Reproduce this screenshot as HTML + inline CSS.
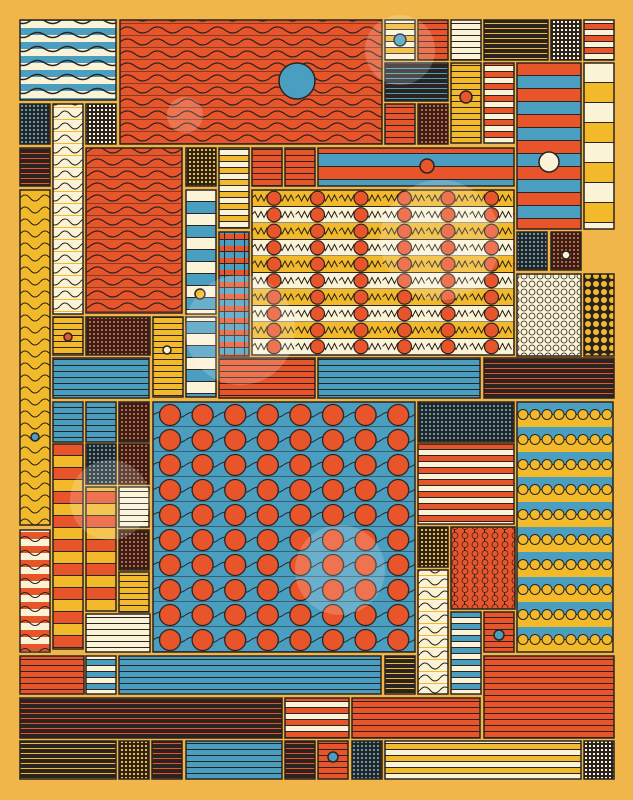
<!DOCTYPE html><html><head><meta charset="utf-8"><style>html,body{margin:0;padding:0;background:#f1b649}svg{display:block}</style></head><body>
<svg width="633" height="800" viewBox="0 0 633 800" xmlns="http://www.w3.org/2000/svg">
<defs>
<pattern id="R" width="6" height="6" patternUnits="userSpaceOnUse"><rect width="6" height="6" fill="#e9552b"/><rect y="5" width="6" height="1" fill="#2a2320"/></pattern>
<pattern id="B" width="6" height="6" patternUnits="userSpaceOnUse"><rect width="6" height="6" fill="#4a9ec0"/><rect y="5" width="6" height="1" fill="#2a2320"/></pattern>
<pattern id="Y" width="6" height="6" patternUnits="userSpaceOnUse"><rect width="6" height="6" fill="#f2b92a"/><rect y="5" width="6" height="1" fill="#2a2320"/></pattern>
<pattern id="C" width="6" height="6" patternUnits="userSpaceOnUse"><rect width="6" height="6" fill="#fbf3d6"/><rect y="5" width="6" height="1" fill="#2a2320"/></pattern>
<pattern id="D" width="5" height="5" patternUnits="userSpaceOnUse"><rect width="5" height="5" fill="#2a2320"/><rect y="3" width="5" height="1" fill="#e9552b"/></pattern>
<pattern id="DY" width="5" height="5" patternUnits="userSpaceOnUse"><rect width="5" height="5" fill="#2a2320"/><rect y="3" width="5" height="1" fill="#f2b92a"/></pattern>
<pattern id="DB" width="5" height="5" patternUnits="userSpaceOnUse"><rect width="5" height="5" fill="#2a2320"/><rect y="3" width="5" height="1" fill="#4a9ec0"/></pattern>
<pattern id="GY" width="4" height="4" patternUnits="userSpaceOnUse"><rect width="4" height="4" fill="#2a2320"/><rect x="1" y="1" width="2" height="2" fill="#f2b92a"/></pattern>
<pattern id="GB" width="4" height="4" patternUnits="userSpaceOnUse"><rect width="4" height="4" fill="#2a2320"/><rect x="1" y="1" width="2" height="2" fill="#4a9ec0"/></pattern>
<pattern id="GR" width="4" height="4" patternUnits="userSpaceOnUse"><rect width="4" height="4" fill="#2a2320"/><rect x="1" y="1" width="2" height="2" fill="#e9552b"/></pattern>
<pattern id="GC" width="4" height="4" patternUnits="userSpaceOnUse"><rect width="4" height="4" fill="#2a2320"/><rect x="1" y="1" width="2" height="2" fill="#fbf3d6"/></pattern>
<pattern id="RC" width="12" height="12" patternUnits="userSpaceOnUse"><rect width="12" height="12" fill="#e9552b"/><rect y="6" width="12" height="6" fill="#fbf3d6"/><rect y="5" width="12" height="1" fill="#2a2320"/><rect y="11" width="12" height="1" fill="#2a2320"/></pattern>
<pattern id="BC" width="12" height="12" patternUnits="userSpaceOnUse"><rect width="12" height="12" fill="#4a9ec0"/><rect y="6" width="12" height="6" fill="#fbf3d6"/><rect y="5" width="12" height="1" fill="#2a2320"/><rect y="11" width="12" height="1" fill="#2a2320"/></pattern>
<pattern id="YC" width="12" height="12" patternUnits="userSpaceOnUse"><rect width="12" height="12" fill="#f2b92a"/><rect y="6" width="12" height="6" fill="#fbf3d6"/><rect y="5" width="12" height="1" fill="#2a2320"/><rect y="11" width="12" height="1" fill="#2a2320"/></pattern>
<pattern id="BR" width="26" height="26" patternUnits="userSpaceOnUse" y="63"><rect width="26" height="26" fill="#e9552b"/><rect y="13" width="26" height="13" fill="#4a9ec0"/><rect y="12" width="26" height="1" fill="#2a2320"/><rect y="25" width="26" height="1" fill="#2a2320"/></pattern>
<pattern id="CYb" width="30" height="40" patternUnits="userSpaceOnUse" y="63"><rect width="30" height="40" fill="#fbf3d6"/><rect y="20" width="30" height="20" fill="#f2b92a"/><rect y="19" width="30" height="1" fill="#2a2320"/><rect y="39" width="30" height="1" fill="#2a2320"/></pattern>
<pattern id="BCb" width="30" height="24" patternUnits="userSpaceOnUse" y="190"><rect width="30" height="24" fill="#fbf3d6"/><rect y="12" width="30" height="12" fill="#4a9ec0"/><rect y="11" width="30" height="1" fill="#2a2320"/><rect y="23" width="30" height="1" fill="#2a2320"/></pattern>
<pattern id="RYb" width="30" height="24" patternUnits="userSpaceOnUse" y="444"><rect width="30" height="24" fill="#e9552b"/><rect y="12" width="30" height="12" fill="#f2b92a"/><rect y="11" width="30" height="1" fill="#2a2320"/><rect y="23" width="30" height="1" fill="#2a2320"/></pattern>
<pattern id="RB" width="10" height="12" patternUnits="userSpaceOnUse"><rect width="10" height="12" fill="#4a9ec0"/><rect y="6" width="10" height="6" fill="#e9552b"/><rect x="4" width="1" height="12" fill="#2a2320"/><rect y="11" width="10" height="1" fill="#2a2320"/></pattern>
<pattern id="WY" width="20" height="12" patternUnits="userSpaceOnUse"><rect width="20" height="12" fill="#f2b92a"/><path d="M0 6 Q5 0 10 6 T20 6" fill="none" stroke="#2a2320" stroke-width="1"/></pattern>
<pattern id="WC" width="20" height="12" patternUnits="userSpaceOnUse"><rect width="20" height="12" fill="#fbf3d6"/><path d="M0 6 Q5 0 10 6 T20 6" fill="none" stroke="#2a2320" stroke-width="1"/><rect y="11" width="20" height="1" fill="#f2b92a"/></pattern>
<pattern id="WR" width="30" height="12" patternUnits="userSpaceOnUse"><rect width="30" height="12" fill="#e9552b"/><path d="M0 6 Q7 0 15 6 T30 6" fill="none" stroke="#2a2320" stroke-width="1.2"/><rect y="11" width="30" height="1" fill="#2a2320" opacity=".5"/></pattern>
<pattern id="WB" width="30" height="14" patternUnits="userSpaceOnUse"><rect width="30" height="7" fill="#4a9ec0"/><rect y="7" width="30" height="7" fill="#fbf3d6"/><path d="M0 7 Q7 2 15 7 T30 7" fill="none" stroke="#2a2320" stroke-width="1.5"/></pattern>
<pattern id="WRC" width="20" height="14" patternUnits="userSpaceOnUse"><rect width="20" height="7" fill="#e9552b"/><rect y="7" width="20" height="7" fill="#fbf3d6"/><path d="M0 7 Q5 2 10 7 T20 7" fill="none" stroke="#2a2320" stroke-width="1"/></pattern>
<pattern id="ZZ" width="262" height="33" patternUnits="userSpaceOnUse" y="190"><rect width="262" height="16.5" fill="#f2b92a"/><rect y="16.5" width="262" height="16.5" fill="#fbf3d6"/><rect y="16" width="262" height="1" fill="#2a2320"/><rect y="32.5" width="262" height="1" fill="#2a2320"/></pattern>
<pattern id="CR" width="43.5" height="16.5" patternUnits="userSpaceOnUse" x="252" y="190"><path d="M0 8 l3 -3 3 6 3 -6 3 6 3 -6 3 6 3 -6 3 6 3 -6 3 6 3 -6 3 6 3 -6 3 6" fill="none" stroke="#2a2320" stroke-width="1"/><circle cx="22" cy="8.2" r="7" fill="#e9552b" stroke="#2a2320" stroke-width="1.2"/></pattern>
<pattern id="CB" width="32.6" height="25" patternUnits="userSpaceOnUse" x="153" y="402"><rect width="32.6" height="25" fill="#4a9ec0"/><path d="M0 13 Q8 7 16 13 T32.6 13" fill="none" stroke="#2a2320" stroke-width="1"/><rect y="24" width="32.6" height="1" fill="#2a2320" opacity=".5"/><circle cx="17" cy="13" r="10.5" fill="#e9552b" stroke="#2a2320" stroke-width="1.3"/></pattern>
<pattern id="CBY" width="12" height="25" patternUnits="userSpaceOnUse" x="517" y="402"><rect width="12" height="12.5" fill="#4a9ec0"/><rect y="12.5" width="12" height="12.5" fill="#f2b92a"/><rect y="12" width="12" height="1" fill="#2a2320"/><circle cx="6" cy="12.5" r="5" fill="#f2b92a" stroke="#2a2320" stroke-width="1"/></pattern>
<pattern id="CC" width="8" height="8" patternUnits="userSpaceOnUse"><rect width="8" height="8" fill="#fbf3d6"/><circle cx="4" cy="4" r="3" fill="#fbf3d6" stroke="#2a2320" stroke-width=".8"/></pattern>
<pattern id="CD" width="8" height="8" patternUnits="userSpaceOnUse"><rect width="8" height="8" fill="#2a2320"/><circle cx="4" cy="4" r="3" fill="#f2b92a"/></pattern>
<pattern id="CRG" width="10" height="9" patternUnits="userSpaceOnUse"><rect width="10" height="9" fill="#e9552b"/><rect x="4" width="1" height="9" fill="#2a2320"/><circle cx="5" cy="4.5" r="3" fill="#e9552b" stroke="#2a2320" stroke-width=".8"/></pattern>
</defs>
<rect width="633" height="800" fill="#f1b649"/>
<g stroke="#2a2320" stroke-width="1.5">
<rect x="20" y="20" width="96" height="80" fill="url(#WB)"/>
<rect x="120" y="20" width="262" height="124" fill="url(#WR)"/>
<rect x="385" y="20" width="30" height="40" fill="url(#YC)"/>
<rect x="418" y="20" width="30" height="40" fill="url(#R)"/>
<rect x="451" y="20" width="30" height="40" fill="url(#C)"/>
<rect x="484" y="20" width="64" height="40" fill="url(#DY)"/>
<rect x="551" y="20" width="30" height="40" fill="url(#GC)"/>
<rect x="584" y="20" width="30" height="40" fill="url(#RC)"/>
<rect x="385" y="63" width="63" height="38" fill="url(#DB)"/>
<rect x="451" y="63" width="30" height="80" fill="url(#Y)"/>
<rect x="484" y="63" width="30" height="80" fill="url(#RC)"/>
<rect x="517" y="63" width="64" height="166" fill="url(#BR)"/>
<rect x="584" y="63" width="30" height="166" fill="url(#CYb)"/>
<rect x="385" y="104" width="30" height="40" fill="url(#R)"/>
<rect x="418" y="104" width="30" height="40" fill="url(#GR)"/>
<rect x="20" y="104" width="30" height="40" fill="url(#GB)"/>
<rect x="53" y="104" width="30" height="210" fill="url(#WC)"/>
<rect x="86" y="104" width="30" height="40" fill="url(#GC)"/>
<rect x="20" y="148" width="30" height="38" fill="url(#D)"/>
<rect x="20" y="190" width="30" height="335" fill="url(#WY)"/>
<rect x="86" y="148" width="96" height="165" fill="url(#WR)"/>
<rect x="186" y="148" width="30" height="38" fill="url(#GY)"/>
<rect x="219" y="148" width="30" height="80" fill="url(#YC)"/>
<rect x="252" y="148" width="30" height="38" fill="url(#R)"/>
<rect x="285" y="148" width="30" height="38" fill="url(#R)"/>
<rect x="318" y="148" width="196" height="38" fill="url(#BR)"/>
<rect x="186" y="190" width="30" height="124" fill="url(#BCb)"/>
<rect x="219" y="232" width="30" height="124" fill="url(#RB)"/>
<rect x="252" y="190" width="262" height="165" fill="url(#ZZ)"/>
<rect x="252" y="190" width="262" height="165" fill="url(#CR)" stroke="none"/>
<rect x="517" y="232" width="30" height="38" fill="url(#GB)"/>
<rect x="551" y="232" width="30" height="38" fill="url(#GR)"/>
<rect x="517" y="274" width="64" height="82" fill="url(#CC)"/>
<rect x="584" y="274" width="30" height="82" fill="url(#CD)"/>
<rect x="53" y="317" width="30" height="38" fill="url(#Y)"/>
<rect x="86" y="317" width="64" height="38" fill="url(#GR)"/>
<rect x="153" y="317" width="30" height="80" fill="url(#Y)"/>
<rect x="186" y="317" width="30" height="80" fill="url(#BCb)"/>
<rect x="219" y="358" width="96" height="40" fill="url(#R)"/>
<rect x="53" y="358" width="96" height="40" fill="url(#B)"/>
<rect x="318" y="358" width="162" height="40" fill="url(#B)"/>
<rect x="484" y="358" width="130" height="40" fill="url(#D)"/>
<rect x="53" y="402" width="30" height="40" fill="url(#B)"/>
<rect x="86" y="402" width="30" height="40" fill="url(#B)"/>
<rect x="119" y="402" width="30" height="40" fill="url(#GR)"/>
<rect x="153" y="402" width="262" height="250" fill="url(#CB)"/>
<rect x="418" y="402" width="96" height="40" fill="url(#GB)"/>
<rect x="517" y="402" width="96" height="250" fill="url(#CBY)"/>
<rect x="418" y="444" width="96" height="80" fill="url(#RC)"/>
<rect x="53" y="444" width="30" height="205" fill="url(#RYb)"/>
<rect x="86" y="444" width="30" height="40" fill="url(#GB)"/>
<rect x="119" y="444" width="30" height="40" fill="url(#GR)"/>
<rect x="86" y="487" width="30" height="124" fill="url(#RYb)"/>
<rect x="119" y="487" width="30" height="40" fill="url(#C)"/>
<rect x="119" y="530" width="30" height="40" fill="url(#GR)"/>
<rect x="119" y="572" width="30" height="40" fill="url(#Y)"/>
<rect x="86" y="614" width="64" height="38" fill="url(#C)"/>
<rect x="20" y="530" width="30" height="122" fill="url(#WRC)"/>
<rect x="418" y="527" width="30" height="40" fill="url(#GY)"/>
<rect x="451" y="527" width="64" height="82" fill="url(#CRG)"/>
<rect x="418" y="570" width="30" height="124" fill="url(#WC)"/>
<rect x="451" y="612" width="30" height="82" fill="url(#BC)"/>
<rect x="484" y="612" width="30" height="40" fill="url(#R)"/>
<rect x="20" y="656" width="64" height="38" fill="url(#R)"/>
<rect x="86" y="656" width="30" height="38" fill="url(#BC)"/>
<rect x="119" y="656" width="262" height="38" fill="url(#B)"/>
<rect x="385" y="656" width="30" height="38" fill="url(#DY)"/>
<rect x="484" y="656" width="130" height="82" fill="url(#R)"/>
<rect x="20" y="698" width="262" height="40" fill="url(#D)"/>
<rect x="285" y="698" width="64" height="40" fill="url(#RC)"/>
<rect x="352" y="698" width="128" height="40" fill="url(#R)"/>
<rect x="20" y="741" width="96" height="38" fill="url(#DY)"/>
<rect x="119" y="741" width="30" height="38" fill="url(#GY)"/>
<rect x="152" y="741" width="30" height="38" fill="url(#D)"/>
<rect x="186" y="741" width="96" height="38" fill="url(#B)"/>
<rect x="285" y="741" width="30" height="38" fill="url(#D)"/>
<rect x="318" y="741" width="30" height="38" fill="url(#R)"/>
<rect x="352" y="741" width="30" height="38" fill="url(#GB)"/>
<rect x="385" y="741" width="196" height="38" fill="url(#YC)"/>
<rect x="584" y="741" width="30" height="38" fill="url(#GC)"/>
<circle cx="297" cy="81" r="18" fill="#4a9ec0"/>
<circle cx="400" cy="40" r="6" fill="#4a9ec0"/>
<circle cx="466" cy="97" r="6" fill="#e9552b"/>
<circle cx="549" cy="162" r="10" fill="#fbf3d6"/>
<circle cx="427" cy="166" r="7" fill="#e9552b"/>
<circle cx="200" cy="294" r="5" fill="#f2b92a"/>
<circle cx="566" cy="255" r="4" fill="#fbf3d6"/>
<circle cx="68" cy="337" r="4" fill="#e9552b"/>
<circle cx="167" cy="350" r="4" fill="#fbf3d6"/>
<circle cx="35" cy="437" r="4" fill="#4a9ec0"/>
<circle cx="499" cy="635" r="5" fill="#4a9ec0"/>
<circle cx="333" cy="757" r="5" fill="#4a9ec0"/>
</g>
<g fill="#ffffff" opacity=".18">
<circle cx="240" cy="330" r="55"/><circle cx="440" cy="240" r="60"/><circle cx="110" cy="500" r="40"/><circle cx="340" cy="570" r="45"/><circle cx="185" cy="115" r="18"/><circle cx="400" cy="50" r="35"/>
</g>
</svg>
</body></html>
